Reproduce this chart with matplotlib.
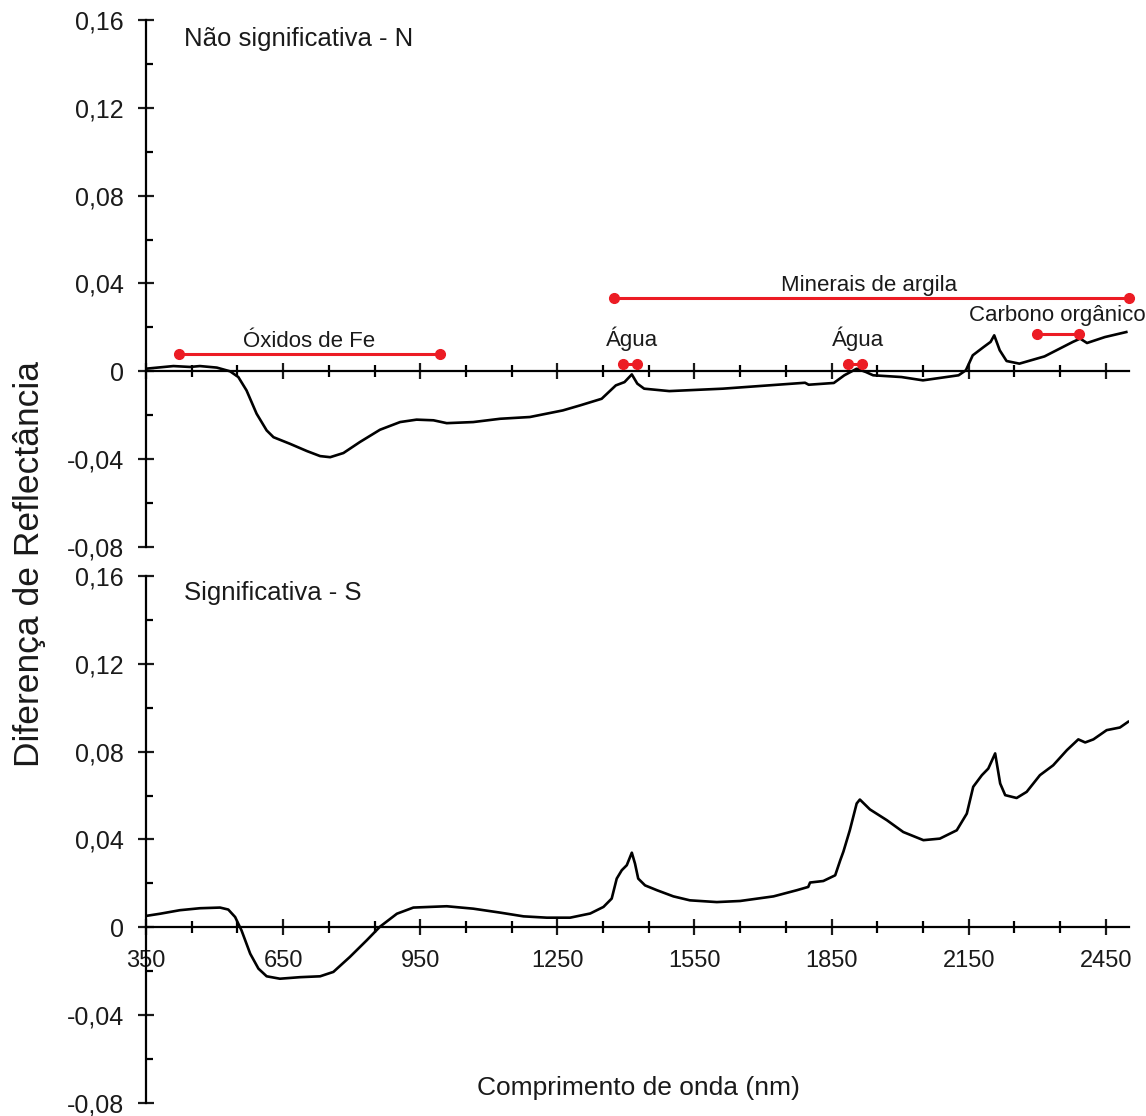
import matplotlib
matplotlib.use('Agg')
import matplotlib.pyplot as plt
from matplotlib.ticker import MultipleLocator, FuncFormatter

plt.rcParams['font.family'] = ['Liberation Sans', 'DejaVu Sans']

# espectro de diferença - classe não significativa (N)
wl_n = [350, 410, 446, 468, 505, 534, 552, 570, 592, 614, 629, 665, 702, 731, 753,
        782, 818, 862, 906, 942, 979, 1008, 1066, 1125, 1190, 1262, 1300, 1347, 1378,
        1397, 1413, 1425, 1440, 1495, 1612, 1792, 1800, 1855, 1878, 1905, 1925, 1941,
        2003, 2050, 2128, 2144, 2159, 2183, 2198, 2206, 2218, 2233, 2261, 2316, 2378,
        2394, 2409, 2448, 2495]
dif_n = [0.0012, 0.0024, 0.0020, 0.0024, 0.0017, 0.0000, -0.0026, -0.0087, -0.0193,
         -0.0269, -0.0300, -0.0330, -0.0363, -0.0386, -0.0391, -0.0372, -0.0322,
         -0.0266, -0.0231, -0.0220, -0.0223, -0.0236, -0.0231, -0.0216, -0.0208,
         -0.0178, -0.0155, -0.0125, -0.0064, -0.0049, -0.0014, -0.0056, -0.0079,
         -0.0090, -0.0079, -0.0052, -0.0061, -0.0053, -0.0018, 0.0012, -0.0003,
         -0.0018, -0.0026, -0.0041, -0.0018, 0.0005, 0.0073, 0.0111, 0.0134, 0.0164,
         0.0096, 0.0047, 0.0035, 0.0068, 0.0134, 0.0149, 0.0129, 0.0156, 0.0179]

# espectro de diferença - classe significativa (S)
wl_s = [350, 381, 424, 468, 512, 530, 545, 559, 578, 596, 614, 643, 687, 731, 760, 796,
        833, 862, 899, 935, 971, 1008, 1066, 1125, 1176, 1227, 1278, 1322, 1351, 1369,
        1380, 1391, 1402, 1413, 1420, 1427, 1442, 1468, 1504, 1540, 1599, 1650, 1723,
        1774, 1799, 1803, 1832, 1858, 1869, 1876, 1890, 1905, 1912, 1934, 1971, 2007,
        2051, 2087, 2124, 2146, 2160, 2179, 2193, 2208, 2219, 2230, 2255, 2277, 2306,
        2335, 2365, 2390, 2405, 2423, 2452, 2481, 2499]
dif_s = [0.0052, 0.0062, 0.0078, 0.0087, 0.0090, 0.0081, 0.0047, -0.0014, -0.0120,
         -0.0188, -0.0223, -0.0234, -0.0227, -0.0223, -0.0203, -0.0135, -0.0059,
         0.0003, 0.0062, 0.0090, 0.0093, 0.0096, 0.0085, 0.0067, 0.0050, 0.0044,
         0.0044, 0.0063, 0.0093, 0.0131, 0.0222, 0.0260, 0.0283, 0.0340, 0.0290,
         0.0222, 0.0191, 0.0169, 0.0141, 0.0123, 0.0115, 0.0120, 0.0141, 0.0169,
         0.0184, 0.0204, 0.0211, 0.0237, 0.0305, 0.0345, 0.0442, 0.0564, 0.0582,
         0.0537, 0.0488, 0.0434, 0.0397, 0.0404, 0.0442, 0.0518, 0.0640, 0.0693,
         0.0723, 0.0792, 0.0655, 0.0602, 0.0589, 0.0617, 0.0693, 0.0738, 0.0807,
         0.0856, 0.0842, 0.0856, 0.0898, 0.0910, 0.0936]

# faixas de absorção (início, fim, nível da barra, rótulo, x do rótulo, y do rótulo)
bandas = [
    (423, 993, 0.0081, 'Óxidos de Fe', 707, 0.0134, 'center'),
    (1374, 2500, 0.0336, 'Minerais de argila', 1932, 0.0392, 'center'),
    (1393, 1425, 0.0035, 'Água', 1413, 0.0149, 'center'),
    (1887, 1917, 0.0035, 'Água', 1908, 0.0149, 'center'),
    (2300, 2392, 0.0172, 'Carbono orgânico', 2151, 0.0255, 'left'),
]

vermelho = '#ec1c24'

fig = plt.figure(figsize=(11.46, 11.16), dpi=100)
W, H = 1146, 1116
x0, x1 = 146, 1128.6
ax_n = fig.add_axes([x0 / W, 1 - 547 / H, (x1 - x0) / W, 527 / H])
ax_s = fig.add_axes([x0 / W, 1 - 1103 / H, (x1 - x0) / W, 527 / H])


def fmt_y(v, pos):
    if abs(v) < 1e-9:
        return '0'
    return f'{v:.2f}'.replace('.', ',')


for ax in (ax_n, ax_s):
    ax.set_xlim(350, 2500)
    ax.set_ylim(-0.08, 0.16)
    ax.patch.set_alpha(0)
    ax.spines['top'].set_visible(False)
    ax.spines['right'].set_visible(False)
    ax.spines['bottom'].set_position(('data', 0))
    ax.spines['left'].set_linewidth(1.6)
    ax.spines['bottom'].set_linewidth(1.6)
    ax.xaxis.set_major_locator(MultipleLocator(300, offset=50))
    ax.xaxis.set_minor_locator(MultipleLocator(100, offset=50))
    ax.yaxis.set_major_locator(MultipleLocator(0.04))
    ax.yaxis.set_minor_locator(MultipleLocator(0.02))
    ax.yaxis.set_major_formatter(FuncFormatter(fmt_y))
    ax.tick_params(axis='x', which='major', direction='inout', length=11,
                   width=1.6, labelsize=17, pad=11, colors='#1a1a1a')
    ax.tick_params(axis='x', which='minor', direction='inout', length=9, width=1.6)
    ax.tick_params(axis='y', which='major', direction='inout', length=12,
                   width=1.6, labelsize=18, pad=10, colors='#1a1a1a')
    ax.tick_params(axis='y', which='minor', direction='in', length=5, width=1.6)

ax_n.tick_params(axis='x', labelbottom=False)

ax_n.plot(wl_n, dif_n, color='black', lw=1.9, zorder=3)
ax_s.plot(wl_s, dif_s, color='black', lw=1.9, zorder=3)

for ini, fim, nivel, rotulo, xr, yr, ha in bandas:
    ax_n.plot([ini, fim], [nivel, nivel], color=vermelho, lw=2.2, marker='o',
              markersize=7, clip_on=False, zorder=4)
    ax_n.text(xr, yr, rotulo, fontsize=16, ha=ha, va='center', color='#1a1a1a',
              clip_on=False)

ax_n.text(0.0387, 0.964, 'Não significativa - N', transform=ax_n.transAxes,
          fontsize=18.5, ha='left', va='center', color='#1a1a1a')
ax_s.text(0.0387, 0.968, 'Significativa - S', transform=ax_s.transAxes,
          fontsize=18.5, ha='left', va='center', color='#1a1a1a')

fig.text(30 / W, 0.495, 'Diferença de Reflectância', rotation=90, fontsize=25.5,
         ha='center', va='center', color='#1a1a1a')
fig.text(638 / W, 1 - 1088 / H, 'Comprimento de onda (nm)', fontsize=19,
         ha='center', va='center', color='#1a1a1a')

fig.savefig('out.png', dpi=100)
